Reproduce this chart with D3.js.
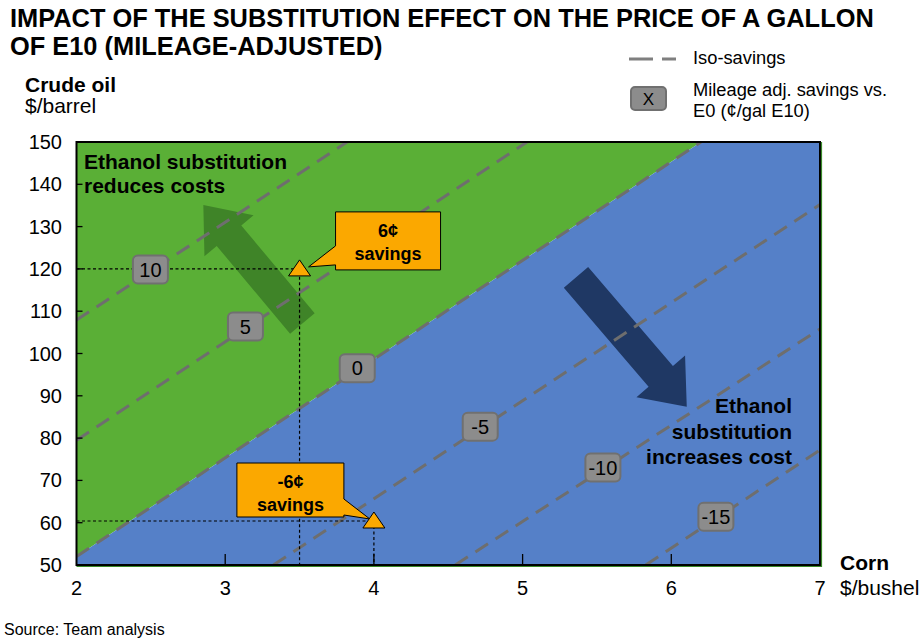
<!DOCTYPE html>
<html><head><meta charset="utf-8">
<script src="https://cdn.jsdelivr.net/npm/d3@7"></script>
<style>
body{margin:0;background:#fff;}
svg{display:block;font-family:"Liberation Sans",Arial,sans-serif;}
</style></head>
<body><svg id="c" width="922" height="639"></svg>
<script>
// ---- data ----
const cornTicks = [2,3,4,5,6,7];
const oilTicks = [50,60,70,80,90,100,110,120,130,140,150];
const isoValues   = [10, 5, 0, -5, -10, -15];
const isoCornStart= [2, 2, 2, 3.324, 4.547, 5.828];
const isoOilStart = [107.9, 79.5, 52, 50, 50, 50];
const isoCornEnd  = [3.82, 5.03, 6.2, 7, 7, 7];
const isoOilEnd   = [150, 150, 150, 135.2, 105.8, 77.2];
const isoLabelCorn= [2.497, 3.136, 3.888, 4.715, 5.54, 6.30];
const pointCorn = [3.5, 4.0];
const pointOil  = [120, 60.4];
const pointSavingsLabel = ["6¢", "-6¢"];
const arrowFromCorn = [3.519, 5.359];
const arrowFromOil  = [107.1, 118.0];
const arrowToCorn   = [2.853, 6.104];
const arrowToOil    = [135.1, 87.4];

// ---- setup ----
const svg = d3.select("#c");
const x = d3.scaleLinear().domain([2,7]).range([76.5,820]);
const y = d3.scaleLinear().domain([50,150]).range([565,142]);
const GREEN="#5AAF36", BLUE="#5580C8", ORANGE="#FBA800", DASH="#6E6E6E";

svg.append("defs").append("clipPath").attr("id","pc")
  .append("rect").attr("x",x(2)).attr("y",y(150)).attr("width",x(7)-x(2)).attr("height",y(50)-y(150));

const plot = svg.append("g").attr("clip-path","url(#pc)");
const zi = isoValues.indexOf(0);
const z0 = [isoCornStart[zi], isoOilStart[zi]], z1 = [isoCornEnd[zi], isoOilEnd[zi]];
const line = d3.line().x(d=>x(d[0])).y(d=>y(d[1]));
plot.append("path").attr("fill",GREEN)
  .attr("d", line([[2,50],z0,z1,[2,150]]) + "Z");
plot.append("path").attr("fill",BLUE)
  .attr("d", line([[2,50],z0,z1,[7,150],[7,50]]) + "Z");

// arrows
function arrowPath(i){
  const tx=x(arrowToCorn[i]), ty=y(arrowToOil[i]);
  const fx=x(arrowFromCorn[i]), fy=y(arrowFromOil[i]);
  const L=Math.hypot(tx-fx,ty-fy), ux=(tx-fx)/L, uy=(ty-fy)/L, nx=-uy, ny=ux;
  const sw=16, hw=32, hl=40;
  const bx=tx-ux*hl, by=ty-uy*hl;
  const p=[[fx+nx*sw,fy+ny*sw],[bx+nx*sw,by+ny*sw],[bx+nx*hw,by+ny*hw],[tx,ty],
           [bx-nx*hw,by-ny*hw],[bx-nx*sw,by-ny*sw],[fx-nx*sw,fy-ny*sw]];
  return "M"+p.map(d=>d.join(",")).join("L")+"Z";
}
plot.append("path").attr("d",arrowPath(0)).attr("fill","#3F8428");
plot.append("path").attr("d",arrowPath(1)).attr("fill","#1F3864");

// iso lines
isoValues.forEach((v,i)=>{
  plot.append("line")
    .attr("x1",x(isoCornStart[i])).attr("y1",y(isoOilStart[i]))
    .attr("x2",x(isoCornEnd[i])).attr("y2",y(isoOilEnd[i]))
    .attr("stroke",DASH).attr("stroke-width",3).attr("stroke-dasharray","15,9");
});

// dotted guides
pointCorn.forEach((c,i)=>{
  const o=pointOil[i];
  plot.append("path").attr("d",line([[2,o],[c,o],[c,50]]))
    .attr("fill","none").attr("stroke","#000").attr("stroke-width",1.2).attr("stroke-dasharray","3,2.5");
});

// frame
svg.append("rect").attr("x",x(2)).attr("y",y(150)).attr("width",x(7)-x(2)).attr("height",y(50)-y(150))
  .attr("fill","none").attr("stroke","#000").attr("stroke-width",2);
svg.append("path").attr("d",`M${x(2)},${y(50)+1.5}H${x(7)+1.5}V${y(150)}`)
  .attr("fill","none").attr("stroke","#3a8a2a").attr("stroke-width",1.2);

// ticks
const ax = svg.append("g").attr("font-size",20).attr("fill","#000");
oilTicks.forEach(t=>{
  if(t>50 && t<150) svg.append("line").attr("x1",x(2)).attr("x2",x(2)+6).attr("y1",y(t)).attr("y2",y(t)).attr("stroke","#000").attr("stroke-width",1.3);
  ax.append("text").attr("x",62).attr("y",y(t)).attr("dy","0.35em").attr("text-anchor","end").text(t);
});
cornTicks.forEach(t=>{
  if(t>2 && t<7) svg.append("line").attr("x1",x(t)).attr("x2",x(t)).attr("y1",y(50)).attr("y2",y(50)-11).attr("stroke","#000").attr("stroke-width",1.3);
  ax.append("text").attr("x",x(t)).attr("y",595).attr("text-anchor","middle").text(t);
});

// iso labels
isoValues.forEach((v,i)=>{
  const c=isoLabelCorn[i];
  const t=(c-isoCornStart[i])/(isoCornEnd[i]-isoCornStart[i]);
  const o=isoOilStart[i]+t*(isoOilEnd[i]-isoOilStart[i]);
  const cx=x(c), cy=y(o)-2;
  svg.append("rect").attr("x",cx-17.5).attr("y",cy-14).attr("width",35).attr("height",28).attr("rx",5)
    .attr("fill","#8C8C8C").attr("stroke","#707070").attr("stroke-width",2);
  svg.append("text").attr("x",cx).attr("y",cy).attr("dy","0.36em").attr("text-anchor","middle")
    .attr("font-size",20).text(v);
});

// callouts
function callout(i, box, tail, tip){
  const [x0,y0,x1,y1]=box;
  let pts;
  if(tail.side==="left") pts=[[x0,y0],[x1,y0],[x1,y1],[x0,y1],[x0,tail.b],tip,[x0,tail.a]];
  else pts=[[x0,y0],[x1,y0],[x1,tail.a],tip,[x1,tail.b],[x1,y1],[x0,y1]];
  svg.append("path").attr("d","M"+pts.map(d=>d.join(",")).join("L")+"Z")
    .attr("fill",ORANGE).attr("stroke","#000").attr("stroke-width",1);
  const cx=(x0+x1)/2;
  svg.append("text").attr("x",cx).attr("y",y0+25).attr("text-anchor","middle").attr("font-weight","bold").attr("font-size",18).text(pointSavingsLabel[i]);
  svg.append("text").attr("x",cx).attr("y",y0+48).attr("text-anchor","middle").attr("font-weight","bold").attr("font-size",18).text("savings");
}
{
  const px=x(pointCorn[0]), py=y(pointOil[0]);
  callout(0,[px+36,py-57,px+141,py+1],{side:"left",a:py-23,b:py-4},[px+9,py-2]);
  const qx=x(pointCorn[1]), qy=y(pointOil[1]);
  callout(1,[qx-137,qy-58,qx-30,qy-4],{side:"right",a:qy-22,b:qy-6},[qx-4,qy-2]);
}
pointCorn.forEach((c,i)=>{
  const px=x(c), py=y(pointOil[i]);
  svg.append("path").attr("d",`M${px-11},${py+7}L${px+11},${py+7}L${px},${py-9}Z`)
    .attr("fill",ORANGE).attr("stroke","#000").attr("stroke-width",1);
});

// region texts
const rt = svg.append("g").attr("font-weight","bold").attr("font-size",21);
rt.append("text").attr("x",84).attr("y",169).text("Ethanol substitution");
rt.append("text").attr("x",84).attr("y",193).text("reduces costs");
[["Ethanol",413],["substitution",439],["increases cost",464]].forEach(d=>
  rt.append("text").attr("x",792).attr("y",d[1]).attr("text-anchor","end").text(d[0]));

// titles
svg.append("text").attr("x",10).attr("y",27).attr("font-weight","bold").attr("font-size",25.4)
  .text("IMPACT OF THE SUBSTITUTION EFFECT ON THE PRICE OF A GALLON");
svg.append("text").attr("x",10).attr("y",55).attr("font-weight","bold").attr("font-size",25.4)
  .text("OF E10 (MILEAGE-ADJUSTED)");
svg.append("text").attr("x",25).attr("y",92).attr("font-weight","bold").attr("font-size",21).text("Crude oil");
svg.append("text").attr("x",25).attr("y",113).attr("font-size",21).text("$/barrel");
svg.append("text").attr("x",840).attr("y",570).attr("font-weight","bold").attr("font-size",21).text("Corn");
svg.append("text").attr("x",840).attr("y",595).attr("font-size",21).text("$/bushel");
svg.append("text").attr("x",4).attr("y",635).attr("font-size",16).text("Source: Team analysis");

// legend
svg.append("line").attr("x1",629).attr("x2",676).attr("y1",59).attr("y2",59)
  .attr("stroke","#7F7F7F").attr("stroke-width",3).attr("stroke-dasharray","24,9");
svg.append("text").attr("x",693).attr("y",64).attr("font-size",18.3).text("Iso-savings");
svg.append("rect").attr("x",631).attr("y",87).attr("width",35).attr("height",23).attr("rx",4)
  .attr("fill","#8C8C8C").attr("stroke","#707070").attr("stroke-width",2);
svg.append("text").attr("x",648.5).attr("y",98.5).attr("dy","0.36em").attr("text-anchor","middle").attr("font-size",17).text("X");
svg.append("text").attr("x",693).attr("y",96).attr("font-size",18.3).text("Mileage adj. savings vs.");
svg.append("text").attr("x",693).attr("y",117).attr("font-size",18.3).text("E0 (¢/gal E10)");
</script></body></html>
